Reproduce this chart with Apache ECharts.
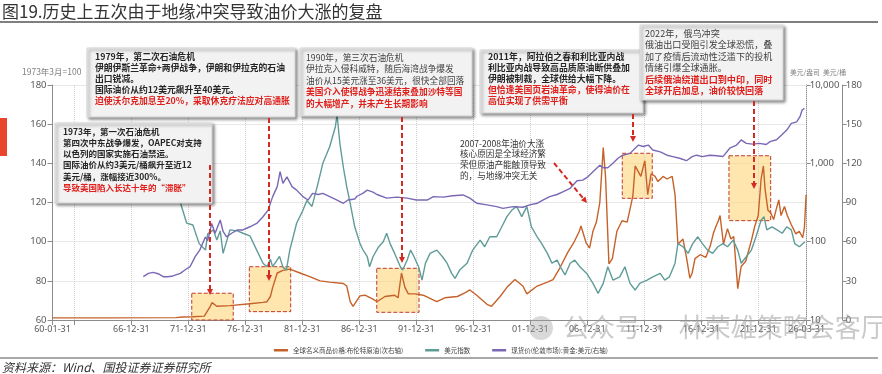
<!DOCTYPE html>
<html><head><meta charset="utf-8">
<script src="https://cdn.jsdelivr.net/npm/echarts@6/dist/echarts.min.js"></script>
<style>html,body{margin:0;padding:0;background:#fff}#c{width:882px;height:374px}</style>
</head><body><div id="c"></div>
<script>
// ---------------- data ----------------
const chartTitle = '图19.历史上五次由于地缘冲突导致油价大涨的复盘';
const sourceText = '资料来源：Wind、国投证券证券研究所';
const seriesNames = ['全球名义商品价格:布伦特原油(次右轴)', '美元指数', '现货价(伦敦市场):黄金:美元(右轴)'];
const xTickLabels = ['60-01-31','66-12-31','71-12-31','76-12-31','81-12-31','86-12-31','91-12-31','96-12-31','01-12-31','06-12-31','11-12-31','16-12-31','21-12-31','26-03-31'];
const xUnlabeledTicks = ['61-12-31'];
const leftAxisName = '1973年3月=100';
const goldAxisName = '美元/盎司';
const oilAxisName = '美元/桶';

// Brent crude, USD/bbl  [year, value]
const oil = [[1960.08,1.6],[1965,1.6],[1970.9,1.8],[1971.5,2.3],[1972.4,2.5],[1973.4,3.0],[1973.9,10],[1974.08,13.3],[1974.5,10.5],[1975.65,11],[1977.4,12.5],[1978.55,13.5],[1978.9,14],[1979.2,18],[1979.4,25],[1979.8,36],[1980.3,38],[1980.9,39],[1981.8,36],[1982.7,33],[1983.55,30],[1984.4,29],[1985.6,28],[1985.9,26],[1986.2,14],[1986.45,10.5],[1987.06,18.5],[1987.5,19],[1988.2,16],[1988.55,14],[1989.25,18],[1990.1,19],[1990.4,17],[1990.7,36],[1991.0,25],[1991.3,20],[1991.9,20],[1992.6,19],[1993.8,14],[1994.5,17],[1995.6,18],[1996.3,21],[1996.7,23],[1997.3,19],[1998.2,12],[1998.6,10.5],[1999.35,18],[1999.95,25],[2000.65,31],[2001.35,26],[2001.7,20],[2002.6,26],[2003.5,29],[2004.0,31],[2004.6,40],[2005.3,52],[2005.8,59],[2006.3,68],[2006.45,72],[2006.9,59],[2007.2,55],[2007.5,68],[2007.8,75],[2008.1,90],[2008.4,132],[2008.6,110],[2008.9,43],[2009.2,47],[2009.6,68],[2010.05,76],[2010.5,75],[2010.75,85],[2011.0,95],[2011.2,118],[2011.45,114],[2011.7,110],[2012.05,122],[2012.3,96],[2012.6,112],[2012.95,110],[2013.2,106],[2013.65,110],[2014.0,108],[2014.45,110],[2014.7,96],[2014.95,58],[2015.4,62],[2015.72,47],[2016.0,32],[2016.2,36],[2016.45,47],[2016.9,50],[2017.4,48],[2017.8,57],[2018.05,66],[2018.3,72],[2018.5,76],[2018.65,80],[2018.95,58],[2019.3,70],[2019.6,62],[2019.85,64],[2020.2,24],[2020.5,41],[2020.9,45],[2021.4,61],[2021.7,72],[2022.0,80],[2022.25,108],[2022.45,118],[2022.6,100],[2022.85,84],[2023.1,82],[2023.35,77],[2023.55,84],[2023.8,92],[2024.0,80],[2024.3,87],[2024.55,80],[2024.9,73],[2025.3,66],[2025.6,68],[2025.9,63],[2026.05,71],[2026.2,96]];

// US dollar index, 1973-03 = 100  [year, value]
const dollar = [[1971.3,120],[1971.85,109.5],[1972.4,108.5],[1972.95,99],[1973.5,95.7],[1973.7,104],[1974.2,106],[1974.5,100.8],[1974.8,105.5],[1975.05,94],[1975.65,106],[1976.3,105.5],[1976.8,104.3],[1977.4,103],[1978.0,95.7],[1978.55,89],[1978.9,87.2],[1979.2,91],[1979.4,87.2],[1980.0,92.5],[1980.3,87],[1980.6,85.5],[1980.9,95.7],[1981.2,102.5],[1981.5,109.4],[1982.05,116],[1982.4,121],[1982.85,118],[1983.3,128],[1983.8,140],[1984.4,148.5],[1984.9,158.7],[1985.05,164.7],[1985.3,150],[1985.6,138],[1985.9,128],[1986.2,119.6],[1986.6,107.6],[1987.06,99],[1987.3,96],[1987.7,92.3],[1987.9,87.2],[1988.2,92.3],[1988.65,97],[1989.1,100],[1989.4,104.3],[1989.7,99],[1990.1,94],[1990.6,87.2],[1990.8,85.5],[1991.2,90.6],[1991.5,95.7],[1991.8,92.3],[1992.2,87.2],[1992.5,80.4],[1992.8,88.9],[1993.2,94],[1993.8,95.7],[1994.3,92.3],[1994.7,89],[1995.1,83.8],[1995.4,81.3],[1995.8,85.5],[1996.45,89],[1996.95,95.7],[1997.6,100.8],[1998.0,97.4],[1998.45,102.5],[1999.05,102.5],[1999.5,107.6],[1999.95,112.8],[2000.4,116.2],[2000.8,118],[2001.25,112.8],[2001.7,117.9],[2002.1,107.6],[2002.6,102.5],[2003.0,99],[2003.5,94],[2003.9,89],[2004.35,90.6],[2004.7,86.5],[2005.05,83],[2005.5,89],[2005.9,90.6],[2006.35,87.2],[2006.95,83.8],[2007.5,78.7],[2007.95,73.6],[2008.4,78.7],[2008.8,87.2],[2009.25,80.4],[2009.85,82],[2010.3,87.2],[2010.75,78.7],[2011.2,75.3],[2011.6,78.7],[2012.25,80.4],[2012.75,82],[2013.4,83.8],[2013.8,80.4],[2014.2,82],[2014.7,89],[2014.95,99],[2015.4,97.4],[2015.85,94],[2016.25,99],[2016.7,102.5],[2017.1,99],[2017.55,95.7],[2018.0,94],[2018.45,97.4],[2018.9,99],[2019.3,97.4],[2019.8,100.8],[2020.2,95.7],[2020.5,89],[2020.95,92.3],[2021.4,95.7],[2021.8,102.5],[2022.25,111],[2022.5,112.8],[2022.75,106],[2023.2,107.6],[2023.65,106],[2024.1,104.3],[2024.5,107.6],[2024.9,106],[2025.2,99],[2025.6,97.4],[2026.1,100]];

// London spot gold, USD/oz  [year, value]
const gold = [[1968.05,35.7],[1968.5,39.4],[1968.9,40.5],[1969.35,39],[1969.8,35.7],[1970.2,35.7],[1970.65,36.5],[1971.3,39.4],[1971.7,43.5],[1972.15,47.9],[1972.6,64.3],[1973.0,78],[1973.5,115],[1973.7,103],[1974.05,171],[1974.35,128],[1974.8,189],[1975.05,135],[1975.35,115],[1975.8,128],[1976.3,141],[1976.8,141],[1977.4,155],[1978.0,171],[1978.55,208],[1979.0,253],[1979.4,376],[1979.8,504],[1980.05,783],[1980.3,555],[1980.65,672],[1981.1,504],[1981.5,455],[1982.05,376],[1982.5,340],[1982.9,414],[1983.4,400],[1983.8,414],[1984.4,376],[1985.05,340],[1985.6,309],[1986.0,340],[1986.6,350],[1986.8,380],[1987.3,414],[1987.7,455],[1988.2,430],[1988.55,400],[1989.4,360],[1990.3,370],[1991.2,360],[1992.0,340],[1992.95,340],[1993.5,376],[1994.35,370],[1995.2,385],[1996.1,395],[1996.7,360],[1997.3,309],[1998.2,295],[1999.05,280],[1999.6,266],[2000.5,280],[2001.35,275],[2001.95,295],[2002.6,309],[2003.1,340],[2003.7,376],[2004.35,400],[2004.9,435],[2005.5,480],[2006.1,600],[2006.6,611],[2007.05,672],[2007.5,783],[2008.1,946],[2008.4,880],[2008.8,880],[2009.25,1000],[2009.7,1160],[2010.1,1270],[2010.75,1340],[2011.2,1560],[2011.5,1710],[2011.9,1640],[2012.35,1710],[2012.75,1480],[2013.4,1400],[2014.0,1270],[2014.5,1220],[2015.1,1160],[2015.7,1080],[2016.2,1220],[2016.6,1270],[2017.1,1220],[2017.75,1270],[2018.35,1250],[2018.9,1220],[2019.5,1560],[2020.1,1710],[2020.5,1990],[2020.95,1800],[2021.5,1760],[2022.1,1800],[2022.7,1740],[2023.03,1890],[2023.6,2000],[2024.05,2300],[2024.5,2660],[2024.9,3240],[2025.37,3390],[2025.66,3940],[2025.85,4790],[2026.05,5030]];

// highlighted episodes: [yearFrom, yearTo, oilLow, oilHigh]
const highlightRanges = [[1972.3,1975.94,0,20.5],[1977.35,1980.98,6.4,40.8],[1988.53,1992.24,5.9,39.6],[2010.07,2012.7,93.2,127.7],[2019.43,2023.09,76.1,125.8]];

// ---------------- helpers ----------------
function dateToYear(s){ const p = s.split('-').map(Number); const y = (p[0] >= 50 ? 1900 : 2000) + p[0]; return y + p[1] / 12; }
const labelYears = xTickLabels.map(dateToYear);
const tickYears = labelYears.concat(xUnlabeledTicks.map(dateToYear)).sort((a,b)=>a-b);
function labelFor(v){ for (let i=0;i<labelYears.length;i++){ if (Math.abs(labelYears[i]-v)<1e-6) return xTickLabels[i]; } return ''; }

const FONT = '"Noto Sans CJK SC", "Noto Sans", sans-serif';
const RED = '#e0201c', DARK = '#262626', GRAY = '#404040';
const els = [];
function txt(x, y, text, fill, size, bold, extra){
  els.push(Object.assign({type:'text', x:x, y:y, z:120, silent:true,
    style:{text:text, fill:fill, font:(bold?'bold ':'')+size+'px '+FONT, align:'left', verticalAlign:'middle'}}, extra||{}));
}
function box(x, y, w, h, tx, ty, step, size, lines){
  els.push({type:'rect', z:100, silent:true, shape:{x:x, y:y, width:w, height:h},
    style:{fill:'#f2f2f2', stroke:'#d6d6d6', lineWidth:1, shadowBlur:3, shadowOffsetX:2, shadowOffsetY:2, shadowColor:'rgba(0,0,0,0.45)'}});
  lines.forEach((l,i)=>txt(tx, ty+i*step, l[0], l[1]==='r'?RED:(l[1]==='g'?GRAY:DARK), size, l[2]));
}
function arrow(x1,y1,x2,y2){
  const dx=x2-x1, dy=y2-y1, L=Math.sqrt(dx*dx+dy*dy), ux=dx/L, uy=dy/L;
  const hl=6, hw=3;
  const bx=x2-ux*hl, by=y2-uy*hl;
  els.push({type:'line', z:110, silent:true, shape:{x1:x1,y1:y1,x2:bx,y2:by}, style:{stroke:'#d42a22', lineWidth:2, lineDash:[5,3]}});
  els.push({type:'polygon', z:110, silent:true, shape:{points:[[x2,y2],[bx-uy*hw,by+ux*hw],[bx+uy*hw,by-ux*hw]]}, style:{fill:'#d42a22'}});
}

// title & frame
txt(2, 11.5, chartTitle, '#333', 17, false);
els.push({type:'line', z:100, silent:true, shape:{x1:0,y1:22,x2:878,y2:22}, style:{stroke:'#555', lineWidth:1.5}});
els.push({type:'rect', z:100, silent:true, shape:{x:0,y:118,width:7,height:38}, style:{fill:'#e8452c'}});
els.push({type:'line', z:100, silent:true, shape:{x1:0,y1:358,x2:878,y2:358}, style:{stroke:'#555', lineWidth:1}});
txt(2, 367, sourceText, '#333', 12, false, {style:{text:sourceText, fill:'#333', font:'italic 12px '+FONT, align:'left', verticalAlign:'middle'}});

// axis unit names
txt(22, 72, leftAxisName, '#7f7f7f', 8.5, false, {z:90});
txt(790, 72, goldAxisName, '#7f7f7f', 6.8, false, {z:90});
txt(823, 72, oilAxisName, '#7f7f7f', 6.8, false, {z:90});

// annotation boxes
box(87, 48, 208, 69, 95, 57, 11, 8.8, [
  ['1979年，第二次石油危机','d',true],
  ['伊朗伊斯兰革命+两伊战争，伊朗和伊拉克的石油','d',true],
  ['出口锐减。','d',true],
  ['国际油价从约12美元飙升至40美元。','d',true],
  ['迫使沃尔克加息至20%，采取休克疗法应对高通胀','r',true]]);
box(300, 48, 172, 68, 306, 57.5, 11.5, 8.7, [
  ['1990年，第三次石油危机','g',false],
  ['伊拉克入侵科威特，随后海湾战争爆发','g',false],
  ['油价从15美元涨至36美元，很快全部回落','g',false],
  ['美国介入使得战争迅速结束叠加沙特等国','r',true],
  ['的大幅增产，并未产生长期影响','r',true]]);
box(480, 50, 163, 63, 488, 57, 11, 8.9, [
  ['2011年，阿拉伯之春和利比亚内战','d',true],
  ['利比亚内战导致高品质原油断供叠加','d',true],
  ['伊朗被制裁，全球供给大幅下降。','d',true],
  ['但恰逢美国页岩油革命，使得油价在','r',true],
  ['高位实现了供需平衡','r',true]]);
box(640, 25, 143, 75, 645, 33.5, 11.4, 9.1, [
  ['2022年，俄乌冲突','g',false],
  ['俄油出口受阻引发全球恐慌，叠','g',false],
  ['加了疫情后流动性泛滥下的投机','g',false],
  ['情绪引爆全球通胀。','g',false],
  ['后续俄油绕道出口到中印，同时','r',true],
  ['全球开启加息，油价较快回落','r',true]]);
box(55, 123, 157, 80, 63, 131.5, 11.2, 8.5, [
  ['1973年，第一次石油危机','d',true],
  ['第四次中东战争爆发，OAPEC对支持','d',true],
  ['以色列的国家实施石油禁运。','d',true],
  ['国际油价从约3美元/桶飙升至近12','d',true],
  ['美元/桶，涨幅接近300%。','d',true],
  ['导致美国陷入长达十年的“滞胀”','r',true]]);
['2007-2008年油价大涨','核心原因是全球经济繁','荣但原油产能触顶导致','的，与地缘冲突无关'].forEach((t,i)=>txt(460, 143.5+i*10.6, t, '#333', 8.6, false));

arrow(210,165,210,295);
arrow(269,118,269,281);
arrow(402,117,402,263);
arrow(633,114,633,142);
arrow(754,101,754,189);
arrow(554,163,587,203);

// watermark
els.push({type:'circle', z:130, silent:true, shape:{cx:541, cy:328, r:12}, style:{fill:'rgba(160,160,160,0.4)'}});
txt(563, 327, '公众号 · 林荣雄策略会客厅', 'rgba(150,150,150,0.5)', 26, false, {z:130});

const axisColor = '#8c8c8c';
const labelColor = '#595959';

const chart = echarts.init(document.getElementById('c'));
chart.setOption({
  animation:false,
  backgroundColor:'#fff',
  grid:{left:52.5, right:75.3, top:85, bottom:54, containLabel:false},
  legend:{top:342, left:'center', icon:'rect', itemWidth:14, itemHeight:2.5, itemGap:22,
    textStyle:{fontSize:6.5, color:'#444', fontFamily:FONT}, data:seriesNames},
  xAxis:{type:'value', min:labelYears[0], max:labelYears[labelYears.length-1],
    axisLine:{onZero:false, lineStyle:{color:axisColor}},
    axisTick:{customValues:tickYears, length:5, lineStyle:{color:axisColor}},
    axisLabel:{customValues:labelYears, formatter:labelFor, fontSize:9, color:labelColor, margin:5, fontFamily:'"Noto Sans", sans-serif'},
    splitLine:{show:false}},
  yAxis:[
    {type:'value', min:60, max:180, interval:20, position:'left',
      axisLine:{show:true, lineStyle:{color:axisColor}}, axisTick:{show:true, length:5, lineStyle:{color:axisColor}},
      axisLabel:{fontSize:9.5, color:labelColor, margin:6, fontFamily:'"Noto Sans", sans-serif'},
      splitLine:{show:true, lineStyle:{type:'dotted', color:'#d0d0d0'}}},
    {type:'log', logBase:10, min:10, max:10000, position:'right',
      axisLine:{show:true, lineStyle:{color:axisColor}}, axisTick:{show:true, length:4, lineStyle:{color:axisColor}},
      axisLabel:{fontSize:9.5, color:labelColor, margin:3, fontFamily:'"Noto Sans", sans-serif', formatter:v=>Number(v).toLocaleString('en-US')},
      splitLine:{show:false}, minorTick:{show:false}},
    {type:'value', min:0, max:180, interval:30, position:'right', offset:36,
      axisLine:{show:true, lineStyle:{color:axisColor}}, axisTick:{show:true, length:4, lineStyle:{color:axisColor}},
      axisLabel:{fontSize:9.5, color:labelColor, margin:3, fontFamily:'"Noto Sans", sans-serif'},
      splitLine:{show:false}}
  ],
  series:[
    {name:seriesNames[0], type:'line', yAxisIndex:2, data:oil, showSymbol:false, symbol:'none',
      lineStyle:{width:1.4, color:'#c5622a'}, itemStyle:{color:'#c5622a'}, z:3,
      markLine:{silent:true, symbol:'none', label:{show:false}, lineStyle:{type:'dotted', color:'#cfcfcf', width:1},
        data:tickYears.slice(1).map(v=>({xAxis:v})), z:1},
      markArea:{silent:true, itemStyle:{color:'rgba(255,210,110,0.55)', borderColor:'#c0392b', borderWidth:1, borderType:'dashed'},
        data:highlightRanges.map(r=>[{xAxis:r[0], yAxis:r[3]},{xAxis:r[1], yAxis:r[2]}])}},
    {name:seriesNames[1], type:'line', yAxisIndex:0, data:dollar, showSymbol:false, symbol:'none',
      lineStyle:{width:1.4, color:'#5f9c98'}, itemStyle:{color:'#5f9c98'}, z:4},
    {name:seriesNames[2], type:'line', yAxisIndex:1, data:gold, showSymbol:false, symbol:'none',
      lineStyle:{width:1.4, color:'#7a68b4'}, itemStyle:{color:'#7a68b4'}, z:5}
  ],
  graphic:{elements:els}
});
</script></body></html>
